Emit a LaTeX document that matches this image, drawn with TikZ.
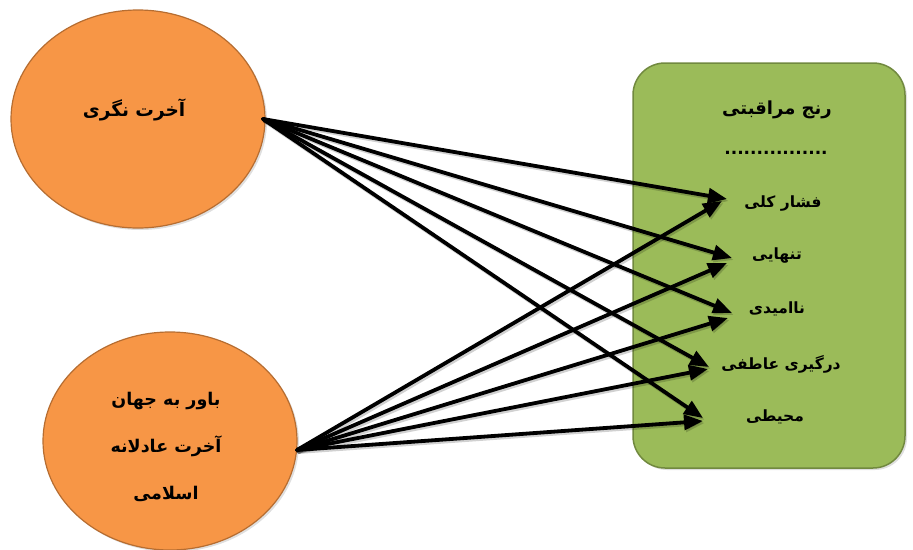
\documentclass[tikz,border=0pt]{standalone}
\usepackage{fontspec}
\newfontfamily\arabicfont[Script=Arabic]{DejaVu Sans}
\TeXXeTstate=1
\usetikzlibrary{arrows.meta,shadows,shapes.geometric}

\definecolor{orangefill}{HTML}{F79646}
\definecolor{orangeline}{HTML}{B66D31}
\definecolor{greenfill}{HTML}{9BBB59}
\definecolor{greenline}{HTML}{71893F}

\tikzset{
  oval/.style={ellipse, draw=orangeline, line width=1.2pt, fill=orangefill,
    minimum width=254pt, minimum height=218pt, inner sep=0pt,
    drop shadow={opacity=0.25, shadow xshift=2pt, shadow yshift=-2pt}},
  ovaltext/.style={inner sep=1pt, align=center,
    font=\arabicfont\bfseries\fontsize{17.5}{47}\selectfont},
  panel/.style={rectangle, rounded corners=32pt, draw=greenline, line width=1.5pt,
    fill=greenfill, minimum width=272pt, minimum height=405pt, inner sep=0pt,
    drop shadow={opacity=0.25, shadow xshift=2pt, shadow yshift=-2pt}},
  item/.style={inner sep=1pt, font=\arabicfont\bfseries\fontsize{15.5}{17}\selectfont},
  link/.style={line width=3.8pt, -{Triangle[length=19pt,width=15pt]}},
  linkshadow/.style={line width=3.8pt, black, opacity=0.18,
    -{Triangle[length=19pt,width=15pt]}, transform canvas={shift={(1.5pt,-2pt)}}}
}

\begin{document}
\begin{tikzpicture}[x=1pt, y=-1pt, line cap=round, line join=round]

\useasboundingbox (0,0) rectangle (913,549);

% Causes
\node[oval] (akhirat) at (138,119) {};
\node[oval] (bavar) at (170,441) {};
\node[ovaltext, font=\arabicfont\bfseries\fontsize{18.5}{20}\selectfont] (akhirattext) at (134,110) {\beginR آخرت نگری\endR};
\node[ovaltext] (bavartext) at (166,447) {\beginR باور به جهان\endR\\ \beginR آخرت عادلانه\endR\\ \beginR اسلامی\endR};

% Panel
\node[panel] (ranj) at (769,265.5) {};
\node[item, font=\arabicfont\bfseries\fontsize{18}{20}\selectfont] (title) at (777,110) {\beginR رنج مراقبتی\endR};
\node[item, font=\arabicfont\bfseries\fontsize{17}{19}\selectfont] (dots) at (776,153) {................};
\node[item] (f1) at (783,204) {\beginR فشار کلی\endR};
\node[item] (f2) at (777,256) {\beginR تنهایی\endR};
\node[item] (f3) at (777,309) {\beginR ناامیدی\endR};
\node[item] (f4) at (781,364) {\beginR درگیری عاطفی\endR};
\node[item] (f5) at (775,417) {\beginR محیطی\endR};

% Start points
\coordinate (s1) at (263,119);
\coordinate (s2) at (297,450);

% Arrow tips
\coordinate (a1) at (727,199);
\coordinate (a2) at (732,258);
\coordinate (a3) at (732,313);
\coordinate (a4) at (709,367);
\coordinate (a5) at (703,418);
\coordinate (b1) at (722,201);
\coordinate (b2) at (727,263);
\coordinate (b3) at (728,318);
\coordinate (b4) at (708,369);
\coordinate (b5) at (703,421);

% Shadows of arrows
\foreach \t in {a1,a2,a3,a4,a5} \draw[linkshadow] (s1) -- (\t);
\foreach \t in {b1,b2,b3,b4,b5} \draw[linkshadow] (s2) -- (\t);

% Arrows
\foreach \t in {a1,a2,a3,a4,a5} \draw[link] (s1) -- (\t);
\foreach \t in {b1,b2,b3,b4,b5} \draw[link] (s2) -- (\t);

\end{tikzpicture}
\end{document}
